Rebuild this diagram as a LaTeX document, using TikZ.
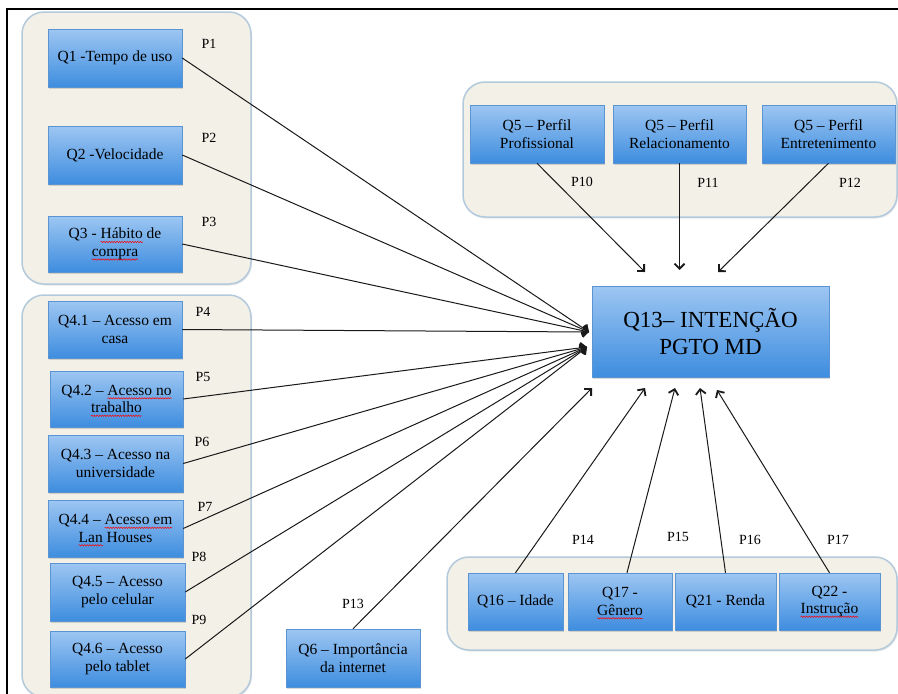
\documentclass[tikz,border=0pt]{standalone}
\usepackage{fontspec}
\setmainfont{Liberation Serif}
\usetikzlibrary{arrows.meta, shadows, decorations.pathmorphing}
\definecolor{boxtop}{HTML}{9DC6F2}
\definecolor{boxbot}{HTML}{3E8DDF}
\definecolor{boxline}{HTML}{5B94D2}
\definecolor{grpfill}{HTML}{F2F0E7}
\definecolor{grpline}{HTML}{B3C9DC}
\newsavebox{\spellbox}
\newcommand{\spell}[1]{\sbox{\spellbox}{#1}\tikz[overlay,baseline=0pt]\draw[red, line width=0.5pt, decorate,
  decoration={snake, amplitude=0.7pt, segment length=2.6pt}] (0pt,-3pt) -- (\the\wd\spellbox,-3pt);\usebox{\spellbox}}
\tikzset{
  grp/.style={draw=grpline, line width=1.5pt, fill=grpfill, rounded corners=22pt,
    drop shadow={shadow xshift=1pt, shadow yshift=-1.5pt, opacity=0.2}},
  qbox/.style={draw=boxline, line width=0.5pt, top color=boxtop, bottom color=boxbot,
    align=center, inner sep=2pt, font=\fontsize{15.5}{17.5}\selectfont,
    drop shadow={shadow xshift=1pt, shadow yshift=-2pt, opacity=0.3}},
  plab/.style={font=\fontsize{14}{16}\selectfont},
  conn/.style={line width=1pt, draw=black!90,
    -{Straight Barb[length=5pt,width=10pt,line width=1.8pt]}}
}

\begin{document}
\begin{tikzpicture}[x=1pt,y=-1pt]
\useasboundingbox (0,0) rectangle (898,694);
%\draw[step=50,gray,very thin] (0,0) grid (898,694); %background grid
\draw[line width=2pt] (898,9) -- (7,9) -- (7,694);
% groups
\draw[grp] (22,12) rectangle (251,284);
\draw[grp] (22,295) rectangle (251,697);
\draw[grp] (463,82) rectangle (897,217);
\draw[grp] (447,557) rectangle (897,650);
% boxes
\node[qbox, minimum width=134pt, minimum height=58pt] (q1) at (115,58) {Q1 -Tempo de uso};
\node[qbox, minimum width=134pt, minimum height=58pt] (q2) at (115,155) {Q2 -Velocidade};
\node[qbox, minimum width=134pt, minimum height=56pt] (q3) at (115,244) {Q3 - \spell{Hábito} de\\ \spell{compra}};
\node[qbox, minimum width=134pt, minimum height=57pt] (q41) at (115,329.5) {Q4.1 -- Acesso em\\ casa};
\node[qbox, minimum width=133pt, minimum height=56pt] (q42) at (116.5,399) {Q4.2 -- \spell{Acesso no}\\ \spell{trabalho}};
\node[qbox, minimum width=135pt, minimum height=57pt] (q43) at (115.5,463.5) {Q4.3 -- Acesso na\\ universidade};
\node[qbox, minimum width=135pt, minimum height=57pt] (q44) at (115.5,528.5) {Q4.4 -- \spell{Acesso em}\\ \spell{Lan} Houses};
\node[qbox, minimum width=135pt, minimum height=58pt] (q45) at (117.5,592) {Q4.5 -- Acesso\\ pelo celular};
\node[qbox, minimum width=135pt, minimum height=56pt] (q46) at (117.5,659) {Q4.6 -- Acesso\\ pelo tablet};
\node[qbox, minimum width=134pt, minimum height=58pt] (q5a) at (537,134) {Q5 -- Perfil\\ Profissional};
\node[qbox, minimum width=133pt, minimum height=58pt] (q5b) at (679.5,134) {Q5 -- Perfil\\ Relacionamento};
\node[qbox, minimum width=133pt, minimum height=58pt] (q5c) at (828.5,134) {Q5 -- Perfil\\ Entretenimento};
\node[qbox, minimum width=237pt, minimum height=91pt, font=\fontsize{23}{27}\selectfont] (q13) at (710.5,331.5) {Q13-- INTENÇÃO\\ PGTO MD};
\node[qbox, minimum width=134pt, minimum height=58pt] (q6) at (353,658) {Q6 -- Importância\\ da internet};
\node[qbox, minimum width=95pt, minimum height=57pt] (q16) at (515.5,601.5) {Q16 -- Idade};
\node[qbox, minimum width=104pt, minimum height=57pt] (q17) at (620,601.5) {Q17 -\\ \spell{Gênero}};
\node[qbox, minimum width=101pt, minimum height=57pt] (q21) at (725.5,601.5) {Q21 - Renda};
\node[qbox, minimum width=101pt, minimum height=57pt] (q22) at (829.5,601.5) {Q22 -\\ \spell{Instrução}};
% arrow ends
\coordinate (inA) at (589,332);
\coordinate (inB) at (587,347);
\coordinate (in10) at (645,272);
\coordinate (in11) at (679.5,270);
\coordinate (in12) at (718,272);
\coordinate (in13) at (592,388);
\coordinate (in14) at (645,388);
\coordinate (in15) at (675,388);
\coordinate (in16) at (700,388);
\coordinate (in17) at (717,390);
% connectors
\draw[conn] (q1.east) -- (inA);
\draw[conn] (q2.east) -- (inA);
\draw[conn] (q3.east) -- (inA);
\draw[conn] (q41.east) -- (inA);
\draw[conn] (q42.east) -- (inB);
\draw[conn] (q43.east) -- (inB);
\draw[conn] (q44.east) -- (inB);
\draw[conn] (q45.east) -- (inB);
\draw[conn] (q46.east) -- (inB);
\draw[conn] (q5a.south) -- (in10);
\draw[conn] (q5b.south) -- (in11);
\draw[conn] (q5c.south) -- (in12);
\draw[conn] (q6.north) -- (in13);
\draw[conn] (q16.north) -- (in14);
\draw[conn] ([xshift=7pt]q17.north) -- (in15);
\draw[conn] (q21.north) -- (in16);
\draw[conn] (q22.north) -- (in17);
% labels
\node[plab] (p1) at (209,44) {P1};
\node[plab] (p2) at (209,138) {P2};
\node[plab] (p3) at (209,222) {P3};
\node[plab] (p4) at (203,312) {P4};
\node[plab] (p5) at (203,377) {P5};
\node[plab] (p6) at (202,442) {P6};
\node[plab] (p7) at (205,507) {P7};
\node[plab] (p8) at (199,557) {P8};
\node[plab] (p9) at (199,620) {P9};
\node[plab] (p10) at (582,182) {P10};
\node[plab] (p11) at (708,183) {P11};
\node[plab] (p12) at (850,183) {P12};
\node[plab] (p13) at (353,604) {P13};
\node[plab] (p14) at (583,540) {P14};
\node[plab] (p15) at (678,537) {P15};
\node[plab] (p16) at (750,540) {P16};
\node[plab] (p17) at (838,540) {P17};
\end{tikzpicture}
\end{document}
